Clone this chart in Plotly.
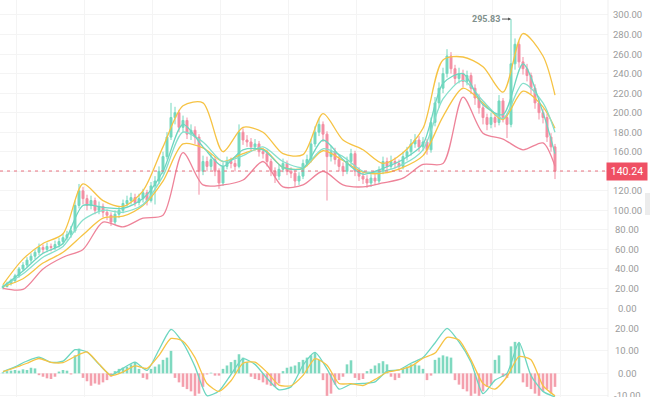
import plotly.graph_objects as go

# ---------------- data ----------------
first_open = 21
close = [22, 25, 28, 33, 40, 44, 49, 53, 57, 62,
         60, 63, 62, 65, 68, 72, 75, 79, 105, 120,
         112, 105, 110, 100, 104, 98, 95, 88, 96, 100,
         107, 110, 113, 108, 112, 118, 110, 125, 130, 140,
         155, 175, 195, 200, 185, 192, 178, 182, 175, 140,
         150, 145, 152, 140, 128, 145, 150, 148, 145, 180,
         172, 170, 165, 168, 160, 158, 150, 140, 135, 142,
         148, 140, 138, 130, 135, 148, 152, 168, 180, 188,
         178, 155, 160, 152, 145, 140, 150, 158, 140, 135,
         132, 128, 133, 130, 140, 150, 145, 150, 148, 145,
         155, 160, 168, 172, 165, 170, 162, 190, 210, 225,
         240, 258, 245, 235, 240, 232, 238, 225, 215, 205,
         195, 188, 195, 190, 212, 195, 188, 250, 270, 252,
         245, 238, 225, 210, 200, 195, 175, 165, 140.24]
high = [24, 27, 30, 35, 42, 47, 52, 56, 60, 66,
        65, 67, 66, 69, 72, 76, 79, 84, 110, 127,
        124, 116, 115, 113, 109, 107, 101, 98, 100, 104,
        111, 115, 118, 117, 117, 122, 121, 129, 135, 145,
        160, 180, 210, 206, 203, 197, 195, 188, 186, 178,
        156, 155, 158, 155, 143, 149, 155, 154, 152, 188,
        184, 177, 174, 173, 171, 164, 162, 153, 144, 147,
        153, 151, 144, 141, 139, 152, 157, 173, 186, 194,
        191, 181, 166, 164, 156, 149, 155, 163, 161, 144,
        139, 136, 137, 137, 145, 155, 154, 156, 154, 152,
        160, 165, 173, 178, 176, 175, 173, 195, 216, 231,
        246, 265, 262, 249, 246, 244, 243, 241, 229, 219,
        209, 199, 200, 199, 218, 215, 199, 295.83, 276, 273,
        257, 250, 241, 229, 214, 204, 199, 179, 168]
low = [19, 21, 23, 26, 31, 38, 42, 46, 50, 54,
       56, 57, 58, 59, 62, 65, 69, 72, 77, 102,
       106, 100, 101, 96, 96, 93, 90, 84, 85, 92,
       97, 104, 106, 104, 105, 108, 105, 108, 106, 127,
       137, 152, 172, 188, 180, 180, 173, 172, 168, 116,
       136, 140, 141, 135, 122, 125, 142, 143, 140, 143,
       167, 165, 160, 161, 155, 153, 145, 135, 128, 131,
       139, 136, 133, 124, 126, 132, 145, 149, 165, 176,
       170, 110, 150, 147, 140, 135, 137, 146, 135, 130,
       127, 123, 124, 126, 127, 137, 141, 142, 143, 140,
       142, 151, 156, 164, 160, 161, 157, 159, 186, 205,
       220, 236, 240, 229, 230, 226, 228, 219, 208, 199,
       188, 182, 184, 185, 187, 190, 174, 185, 244, 246,
       239, 232, 219, 204, 193, 189, 170, 160, 132]

# indicator lines, sampled every 5 candles (plus last candle)
band_upper = [24, 50, 66, 76, 127, 110, 104, 120, 165, 207, 210, 160, 185, 180, 158,
              157, 199, 172, 162, 148, 159, 184, 254, 257, 247, 221, 281, 258, 218]
band_lower = [20, 19, 40, 52, 60, 88, 83, 92, 95, 159, 126, 126, 131, 150, 124,
              126, 140, 126, 124, 128, 133, 147, 148, 216, 179, 173, 162, 169, 145]
ma_fast = [22, 38, 56, 66, 105, 103, 102, 112, 140, 188, 165, 145, 162, 162, 144,
           143, 172, 152, 137, 143, 152, 168, 230, 240, 208, 198, 250, 200, 158]
ma_slow = [22, 35, 52, 63, 90, 100, 98, 106, 135, 180, 170, 150, 156, 165, 150,
           144, 163, 155, 140, 140, 147, 162, 214, 233, 212, 194, 230, 210, 180]
ma_mid = [22, 30, 46, 57, 75, 92, 94, 105, 130, 168, 164, 150, 158, 163, 144,
          143, 161, 151, 139, 138, 144, 156, 196, 225, 210, 193, 222, 206, 184]

# MACD lines, sampled every 3 candles
dif = [0.8, 2.9, 5.5, 7.2, 4.9, 5.4, 10.5, 9.5, 4, -0.8, 2.3, 5, 1.3, 10.5, 19.5, 13.5,
       3, -9.9, -7.8, -0.5, 6.5, 4, -2.2, -7.3, -6, 3.6, 9.3, 2, -7, -4.8, -4.5, -3.8,
       1, 1.5, 4.5, 7, 13.5, 20, 14, 5, -9, -3, 0, 13.8, -1, -8, -10.5]
dea = [0.8, 2.5, 4.5, 6.6, 4.9, 4.8, 7.5, 9.5, 4.2, -1, 0.6, 3.3, 2.2, 8, 15.5, 14.3,
       7, -4.5, -8, -3.3, 4.5, 5, 0.5, -5.2, -5.5, -0.9, 6.5, 3.6, -4.5, -4.6, -5.4, -2.7,
       0.5, 1.5, 3.2, 6.7, 9, 16, 14.8, 6, -4.5, -7, -1.5, 7.5, 6, -5.5, -10]
macd_hist = [0.5, 1, 1.2, 1.5, 1.2, 1.8, 1.5, 2.5, 2.2, -0.8,
             -1.5, -2.2, -2.5, -1.5, 0.8, 1.5, 1.2, -0.5, 8, 11,
             -2, -3.5, -5.5, -4.5, -5, -4, -3, -1.5, 1, 2,
             2.5, 3, 4, 5, 2, -2, -2.7, 2, 3, 4,
             6, 7, 10, -2, -4, -6, -7, -8, -10, -9,
             -6, -0.5, 0.3, -1, -1, 2, 3.5, 5, 6, 8.5,
             7, 5, -1.5, -2.5, -3, -4, -5, -5.5, -6, -4.5,
             1, 2.5, 3, 3.5, 5, 6, 7, 8, 9, 6,
             -3, -10, -9, -5, -3, -1.5, 4, 5.8, -2, -3,
             -2.5, 1, 2, 3.5, 4.5, 5.4, 4, -1.5, -3, -2,
             2, 3, 4, 4, 3.5, 2, -3, -1, 6, 7,
             8, 7.5, 7, -3, -5, -7, -8, -10, -9, -10,
             -8, -6, -5, 6, 8, -1.5, -2, 12, 14, 13.5,
             -4, -6, -7, -9, -10, -8, -7, -9, -6]

price_ticks = [0, 20, 40, 60, 80, 100, 120, 140, 160, 180, 200, 220, 240, 260, 280, 300]
macd_ticks = [-10, 0, 10, 20]
last_price = close[-1]
max_high = max(high)

# ---------------- derived positions ----------------
n = len(close)
x = list(range(n))
open_ = [first_open] + close[:-1]
band_x = list(range(0, n, 5)) + [n - 1]
macd_x = list(range(0, n, 3))
imax = high.index(max_high)

UP = "#74d8bf"
DOWN = "#f38fa3"
YEL = "#f6c344"
TEAL1 = "#6dd6c0"
TEAL2 = "#86dfcb"
PINK = "#ee8399"
FONT = "Roboto"

fig = go.Figure()

fig.add_trace(go.Candlestick(
    x=x, open=open_, high=high, low=low, close=close,
    increasing=dict(line=dict(color=UP, width=1), fillcolor=UP),
    decreasing=dict(line=dict(color=DOWN, width=1), fillcolor=DOWN),
    whiskerwidth=0, xaxis="x", yaxis="y", showlegend=False))

for vals, col in [(band_upper, YEL), (ma_mid, YEL), (ma_slow, TEAL2),
                  (ma_fast, TEAL1), (band_lower, PINK)]:
    fig.add_trace(go.Scatter(x=band_x, y=vals, mode="lines",
                             line=dict(color=col, width=1.3, shape="spline", smoothing=0.8),
                             xaxis="x", yaxis="y", showlegend=False, hoverinfo="skip"))

fig.add_trace(go.Bar(x=x, y=macd_hist,
                     marker=dict(color=["#7fd9c0" if v >= 0 else "#f4a0ad" for v in macd_hist],
                                 line=dict(width=0)),
                     xaxis="x2", yaxis="y2", showlegend=False))
fig.add_trace(go.Scatter(x=macd_x, y=dif, mode="lines",
                         line=dict(color=TEAL1, width=1.3, shape="spline", smoothing=0.6),
                         xaxis="x2", yaxis="y2", showlegend=False))
fig.add_trace(go.Scatter(x=macd_x, y=dea, mode="lines",
                         line=dict(color=YEL, width=1.3, shape="spline", smoothing=0.6),
                         xaxis="x2", yaxis="y2", showlegend=False))

W, H = 650, 397
R = 42
PW = W - R
split = 79 / H

annotations = []
for v in price_ticks:
    if abs(v - last_price) < 8:
        continue  # hidden behind the last-price marker
    annotations.append(dict(x=627 / PW, xref="paper", y=v, yref="y", text=f"{v:.2f}",
                            showarrow=False, xanchor="center", yanchor="middle",
                            font=dict(family=FONT, size=9.5, color="#9b9b9b")))
for v in macd_ticks:
    annotations.append(dict(x=627 / PW, xref="paper", y=v, yref="y2", text=f"{v:.2f}",
                            showarrow=False, xanchor="center", yanchor="middle",
                            font=dict(family=FONT, size=9.5, color="#9b9b9b")))
annotations.append(dict(x=627 / PW, xref="paper", y=last_price, yref="y",
                        text=f"{last_price:.2f}", showarrow=False, xanchor="center",
                        yanchor="middle", bgcolor="#ef5064", borderpad=2, width=36,
                        font=dict(family=FONT, size=10.5, color="#ffffff")))
annotations.append(dict(x=imax, xref="x", y=max_high, yref="y", text=f"<b>{max_high:.2f}</b>",
                        showarrow=True, ax=-9, ay=0, xanchor="right", arrowhead=2,
                        arrowsize=0.6, arrowwidth=1, arrowcolor="#555555",
                        font=dict(family=FONT, size=9, color="#7f908c")))

shapes = [
    dict(type="line", xref="paper", x0=0, x1=1, yref="y", y0=last_price, y1=last_price,
         line=dict(color="#e8707f", width=1, dash="3px,4px")),
    dict(type="line", xref="paper", x0=1, x1=1, yref="paper", y0=0, y1=1,
         line=dict(color="#efefef", width=1)),
    dict(type="rect", xref="paper", x0=645 / PW, x1=651 / PW, yref="paper",
         y0=1 - 215 / H, y1=1 - 193 / H, fillcolor="#ececec", line=dict(width=0)),
]

grid = "#f4f4f4"
fig.update_layout(
    width=W, height=H, margin=dict(l=0, r=R, t=0, b=0),
    paper_bgcolor="white", plot_bgcolor="white",
    font=dict(family=FONT),
    bargap=0.35,
    xaxis=dict(domain=[0, 1], anchor="y", range=[-0.75, (PW / 4) - 0.75],
               showticklabels=False, showgrid=True, gridcolor=grid, tick0=20.25, dtick=17,
               zeroline=False, rangeslider=dict(visible=False), fixedrange=True),
    xaxis2=dict(domain=[0, 1], anchor="y2", matches="x", showticklabels=False,
                showgrid=True, gridcolor=grid, tick0=20.25, dtick=17, zeroline=False),
    yaxis=dict(domain=[split, 1], range=[-10.24, 315.35], tickvals=price_ticks,
               showticklabels=False, gridcolor=grid, zeroline=False, side="right"),
    yaxis2=dict(domain=[0, split], range=[-10.5, 24.6], tickvals=macd_ticks,
                showticklabels=False, gridcolor=grid, zeroline=False, side="right"),
    annotations=annotations, shapes=shapes,
    hovermode=False,
)

fig.write_html("out.html",
               config={"displayModeBar": False, "staticPlot": True},
               post_script="document.body.style.margin='0';document.body.style.padding='0';"
                           "document.body.style.overflow='hidden';")
